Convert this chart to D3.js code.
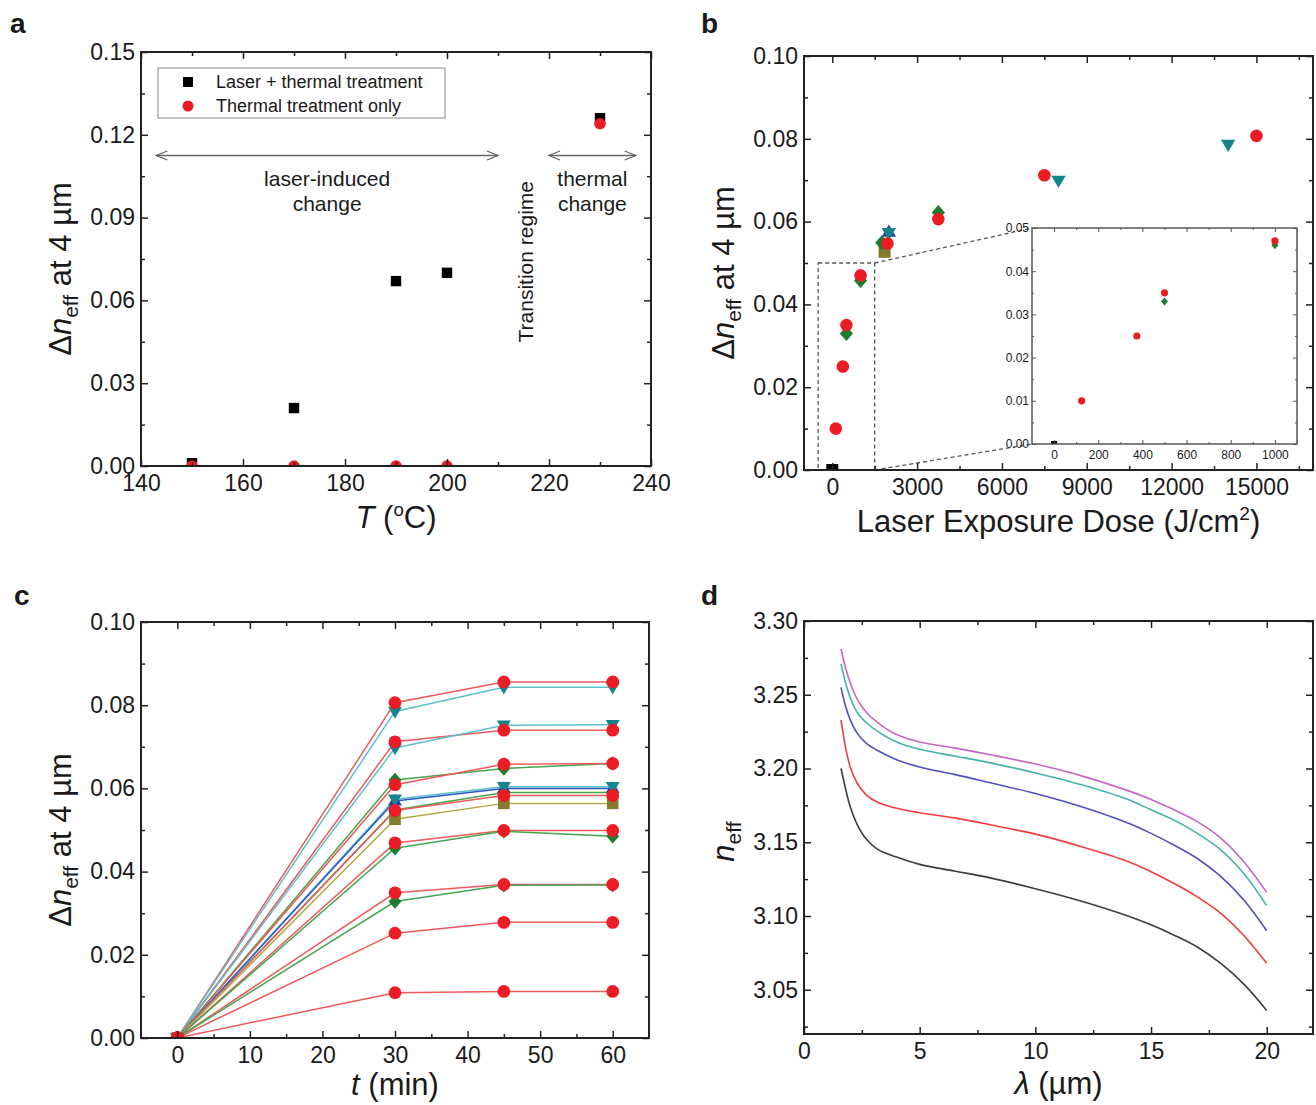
<!DOCTYPE html>
<html>
<head>
<meta charset="utf-8">
<script src="https://cdn.jsdelivr.net/npm/d3@7"></script>
<style>
  body { margin: 0; background: #fff; }
  svg text { fill: #1a1a1a; }
</style>
</head>
<body>
<script>
// ---- panel a: delta n_eff vs anneal temperature
const tempA = [150, 170, 190, 200, 230];
const laserThermalA = [0.001, 0.021, 0.067, 0.070, 0.126];
const thermalOnlyA = [0, 0, 0, 0, 0.124];
const legendA = ["Laser + thermal treatment", "Thermal treatment only"];

// ---- panel b: delta n_eff vs laser dose (one array pair per sample group)
const doseBlack = [0];
const dnBlack = [0];
const doseOlive = [1850];
const dnOlive = [0.0527];
const doseGreen = [500, 1000, 1750, 3750];
const dnGreen = [0.033, 0.0458, 0.0549, 0.0622];
const doseBlue = [2000];
const dnBlue = [0.0575];
const doseTeal = [2000, 8000, 14000];
const dnTeal = [0.0573, 0.0699, 0.0786];
const doseRed = [125, 375, 500, 1000, 1950, 3750, 7500, 15000];
const dnRed = [0.010, 0.025, 0.035, 0.047, 0.0547, 0.0606, 0.0712, 0.0807];

// inset (zoom of low dose range)
const doseInsetRed = [125, 375, 500, 1000];
const dnInsetRed = [0.010, 0.025, 0.035, 0.047];
const doseInsetGreen = [500, 1000];
const dnInsetGreen = [0.033, 0.046];
const doseInsetBlack = [0];
const dnInsetBlack = [0];

// ---- panel c: delta n_eff vs time, one entry per run
const timeC = [0, 30, 45, 60];
const runGroupC = ["red", "teal", "red", "teal", "green", "red", "teal", "blue", "green",
                   "red", "olive", "red", "green", "red", "green", "red", "red"];
const dn0C  = [0, 0, 0, 0, 0, 0, 0, 0, 0, 0, 0, 0, 0, 0, 0, 0, 0];
const dn30C = [0.0806, 0.0785, 0.0712, 0.0697, 0.0620, 0.0609, 0.0574, 0.0570, 0.0548,
               0.0547, 0.0526, 0.0469, 0.0456, 0.0349, 0.0328, 0.0252, 0.0109];
const dn45C = [0.0856, 0.0843, 0.0740, 0.0752, 0.0648, 0.0658, 0.0604, 0.0600, 0.0590,
               0.0583, 0.0564, 0.0499, 0.0497, 0.0369, 0.0367, 0.0278, 0.0112];
const dn60C = [0.0856, 0.0843, 0.0740, 0.0753, 0.0660, 0.0660, 0.0604, 0.0600, 0.0590,
               0.0583, 0.0564, 0.0499, 0.0485, 0.0369, 0.0368, 0.0278, 0.0112];

// ---- panel d: n_eff dispersion curves
const lambdaD   = [1.6, 1.8, 2.0, 2.3, 2.7, 3.2, 4, 5, 6.5, 8, 10, 12, 14, 15, 16, 17, 18, 19, 20];
const nBlackD   = [3.200, 3.186, 3.174, 3.162, 3.152, 3.145, 3.140, 3.135, 3.1305, 3.126, 3.1185, 3.110, 3.100, 3.094, 3.087, 3.079, 3.068, 3.054, 3.036];
const nRedD     = [3.233, 3.214, 3.201, 3.190, 3.182, 3.177, 3.173, 3.170, 3.1665, 3.162, 3.1555, 3.147, 3.137, 3.130, 3.122, 3.113, 3.102, 3.087, 3.068];
const nBlueD    = [3.255, 3.242, 3.233, 3.224, 3.217, 3.212, 3.206, 3.201, 3.196, 3.1905, 3.183, 3.174, 3.163, 3.156, 3.148, 3.139, 3.127, 3.111, 3.090];
const nTealD    = [3.271, 3.258, 3.248, 3.238, 3.231, 3.225, 3.218, 3.213, 3.2085, 3.204, 3.197, 3.189, 3.179, 3.172, 3.165, 3.156, 3.145, 3.129, 3.107];
const nMagentaD = [3.281, 3.268, 3.258, 3.247, 3.238, 3.231, 3.223, 3.218, 3.214, 3.2095, 3.203, 3.195, 3.185, 3.179, 3.172, 3.164, 3.153, 3.137, 3.116];

// styles per sample group
const GROUP_STYLE = {
  black: { shape: "square",  fill: "#000000", line: "#000000" },
  olive: { shape: "square",  fill: "#847b2b", line: "#b2aa48" },
  green: { shape: "diamond", fill: "#1c7d2c", line: "#46a650" },
  blue:  { shape: "up",      fill: "#2b3da6", line: "#2f56c8" },
  teal:  { shape: "down",    fill: "#15858b", line: "#5cc2c9" },
  red:   { shape: "circle",  fill: "#ec1c24", line: "#f0595c" }
};
const DRAW_ORDER = ["black", "olive", "green", "blue", "teal", "red"];

const FONT = '"Liberation Sans", Arial, Helvetica, sans-serif';
const TITLE_FS = 31, TICK_FS = 23;
const svg = d3.select("body").append("svg")
  .attr("width", 1316).attr("height", 1105)
  .style("font-family", FONT);
const defs = svg.append("defs");
let clipId = 0;

function makePanel(left, top, width, height, xDomain, yDomain) {
  const g = svg.append("g").attr("transform", `translate(${left},${top})`);
  const x = d3.scaleLinear().domain(xDomain).range([0, width]);
  const y = d3.scaleLinear().domain(yDomain).range([height, 0]);
  const id = "clip" + (clipId++);
  defs.append("clipPath").attr("id", id)
    .append("rect").attr("width", width).attr("height", height);
  const plot = g.append("g").attr("clip-path", `url(#${id})`);
  return { g, plot, x, y, w: width, h: height, left, top };
}

// Origin-style frame: inward ticks on all four sides
function frame(p, s) {
  const { g, x, y, w, h } = p;
  const big = s.big || 7, small = s.small || 4, col = s.col || "#222";
  const sides = [
    [d3.axisBottom, x, `translate(0,${h})`, s.xMajor, s.xMinor, s.fmtX, s.padX || 9],
    [d3.axisTop, x, null, s.xMajor, s.xMinor, null, 0],
    [d3.axisLeft, y, null, s.yMajor, s.yMinor, s.fmtY, s.padY || 6],
    [d3.axisRight, y, `translate(${w},0)`, s.yMajor, s.yMinor, null, 0]
  ];
  sides.forEach(([mk, sc, tr, major, minor, fmt, pad]) => {
    const a1 = g.append("g").attr("transform", tr)
      .call(mk(sc).tickValues(minor).tickSize(-small).tickFormat(""));
    const a2 = g.append("g").attr("transform", tr)
      .call(mk(sc).tickValues(major).tickSize(-big).tickPadding(pad).tickFormat(fmt || (() => "")));
    [a1, a2].forEach(a => {
      a.select(".domain").remove();
      a.attr("font-size", s.fs || TICK_FS).attr("font-family", FONT);
      a.selectAll("line").attr("stroke", col).attr("stroke-width", s.tw || 1.5);
      a.selectAll("text").attr("fill", s.textCol || "#1a1a1a");
    });
  });
  g.append("rect").attr("width", w).attr("height", h)
    .attr("fill", "none").attr("stroke", col).attr("stroke-width", s.fw || 2);
}

function shapePath(kind, r) {
  const p = d3.path();
  if (kind === "circle") p.arc(0, 0, r, 0, 2 * Math.PI);
  else if (kind === "square") p.rect(-r, -r, 2 * r, 2 * r);
  else if (kind === "diamond") {
    p.moveTo(0, -r * 1.25); p.lineTo(r * 1.1, 0); p.lineTo(0, r * 1.25); p.lineTo(-r * 1.1, 0); p.closePath();
  } else if (kind === "up") {
    p.moveTo(0, -r * 1.25); p.lineTo(r * 1.2, r * 0.8); p.lineTo(-r * 1.2, r * 0.8); p.closePath();
  } else if (kind === "down") {
    p.moveTo(0, r * 1.25); p.lineTo(r * 1.2, -r * 0.8); p.lineTo(-r * 1.2, -r * 0.8); p.closePath();
  }
  return p.toString();
}

function marks(p, xs, ys, group, r) {
  const st = GROUP_STYLE[group];
  p.plot.append("g").selectAll("path").data(d3.zip(xs, ys)).join("path")
    .attr("transform", d => `translate(${p.x(d[0])},${p.y(d[1])})`)
    .attr("d", shapePath(st.shape, r))
    .attr("fill", st.fill);
}

function panelLabel(x, y, t) {
  svg.append("text").attr("x", x).attr("y", y).attr("font-size", 28)
    .attr("font-weight", "bold").text(t);
}

function yTitle(p, build, off) {
  const t = p.g.append("text")
    .attr("transform", `translate(-70,${p.h / 2 + (off || 10)}) rotate(-90)`)
    .attr("text-anchor", "middle").attr("font-size", TITLE_FS);
  build(t);
}
function xTitle(p, build, off) {
  const t = p.g.append("text").attr("x", p.w / 2).attr("y", p.h + (off || 62))
    .attr("text-anchor", "middle").attr("font-size", TITLE_FS);
  build(t);
}
function dnTitle(t) {
  t.append("tspan").text("Δ");
  t.append("tspan").attr("font-style", "italic").text("n");
  t.append("tspan").attr("font-size", "0.68em").attr("dy", 7).text("eff");
  t.append("tspan").attr("dy", -7).text(" at 4 µm");
}

const rng = (a, b, s) => d3.range(a, b + s / 2, s);
const notIn = (arr, major) => arr.filter(v => !major.some(m => Math.abs(m - v) < 1e-9));

// ================= panel a =================
{
  const p = makePanel(141, 52, 510, 414, [140, 240], [0, 0.15]);
  const xMajor = rng(140, 240, 20), yMajor = rng(0, 0.15, 0.03);

  marks(p, tempA, laserThermalA, "black", 5.2);
  marks(p, tempA, thermalOnlyA, "red", 5.8);

  frame(p, {
    xMajor, xMinor: notIn(rng(140, 240, 10), xMajor), fmtX: d3.format("d"),
    yMajor, yMinor: notIn(rng(0, 0.15, 0.015), yMajor), fmtY: d3.format(".2f")
  });

  // legend
  const lg = p.g.append("g").attr("transform", "translate(17,16)");
  lg.append("rect").attr("width", 287).attr("height", 50)
    .attr("fill", "#fff").attr("stroke", "#9a9a9a").attr("stroke-width", 1.2);
  legendA.forEach((txt, i) => {
    const grp = i === 0 ? "black" : "red";
    lg.append("path").attr("transform", `translate(30,${14 + i * 24})`)
      .attr("d", shapePath(GROUP_STYLE[grp].shape, i === 0 ? 5 : 5.5))
      .attr("fill", GROUP_STYLE[grp].fill);
    lg.append("text").attr("x", 58).attr("y", 14 + i * 24).attr("dy", "0.35em")
      .attr("font-size", 18).text(txt);
  });

  // regime arrows
  const ay = p.y(0.1125);
  function dblArrow(t1, t2) {
    const x1 = p.x(t1), x2 = p.x(t2);
    const a = p.g.append("g").attr("stroke", "#666").attr("stroke-width", 1.3).attr("fill", "none");
    a.append("line").attr("x1", x1).attr("x2", x2).attr("y1", ay).attr("y2", ay);
    a.append("path").attr("d", `M${x1 + 11},${ay - 4.5}L${x1},${ay}L${x1 + 11},${ay + 4.5}`);
    a.append("path").attr("d", `M${x2 - 11},${ay - 4.5}L${x2},${ay}L${x2 - 11},${ay + 4.5}`);
  }
  dblArrow(143, 210);
  dblArrow(220, 237);
  const note = (tx, lines) => lines.forEach((s, i) =>
    p.g.append("text").attr("x", p.x(tx)).attr("y", ay + 30 + i * 25)
      .attr("text-anchor", "middle").attr("font-size", 21).text(s));
  note(176.5, ["laser-induced", "change"]);
  note(228.5, ["thermal", "change"]);
  p.g.append("text")
    .attr("transform", `translate(${p.x(216.8)},${p.y(0.074)}) rotate(-90)`)
    .attr("text-anchor", "middle").attr("font-size", 21).text("Transition regime");

  yTitle(p, dnTitle);
  xTitle(p, t => {
    t.append("tspan").attr("font-style", "italic").text("T");
    t.append("tspan").text(" (");
    t.append("tspan").attr("font-size", "0.6em").attr("dy", -12).text("o");
    t.append("tspan").attr("dy", 12).text("C)");
  });
  panelLabel(10, 33, "a");
}

// ================= panel b =================
{
  const p = makePanel(804, 56, 509, 414, [-1000, 17000], [0, 0.10]);
  const xMajor = rng(0, 15000, 3000), yMajor = rng(0, 0.10, 0.02);

  // dashed zoom box and leader lines
  const dash = p.g.append("g").attr("fill", "none").attr("stroke", "#555")
    .attr("stroke-width", 1.3).attr("stroke-dasharray", "4,3");
  dash.append("rect").attr("x", p.x(-500)).attr("y", p.y(0.05))
    .attr("width", p.x(1500) - p.x(-500)).attr("height", p.y(0) - p.y(0.05));

  const groupsB = {
    black: [doseBlack, dnBlack], olive: [doseOlive, dnOlive], green: [doseGreen, dnGreen],
    blue: [doseBlue, dnBlue], teal: [doseTeal, dnTeal], red: [doseRed, dnRed]
  };
  DRAW_ORDER.forEach(k => marks(p, groupsB[k][0], groupsB[k][1], k, k === "red" ? 6.3 : 6));

  frame(p, {
    xMajor, xMinor: notIn(rng(-1500, 16500, 1500), xMajor).filter(v => v > -1000),
    fmtX: d3.format("d"),
    yMajor, yMinor: notIn(rng(0, 0.10, 0.01), yMajor), fmtY: d3.format(".2f")
  });

  // inset
  const ins = makePanel(1032, 228, 265, 216, [-100, 1100], [0, 0.05]);
  const ix0 = ins.left - p.left, iy0 = ins.top - p.top;
  dash.append("line").attr("x1", p.x(1500)).attr("y1", p.y(0.05)).attr("x2", ix0).attr("y2", iy0);
  dash.append("line").attr("x1", p.x(1500)).attr("y1", p.y(0)).attr("x2", ix0).attr("y2", iy0 + ins.h);
  ins.g.insert("rect", ":first-child").attr("width", ins.w).attr("height", ins.h).attr("fill", "#fff");
  marks(ins, doseInsetBlack, dnInsetBlack, "black", 3);
  marks(ins, doseInsetGreen, dnInsetGreen, "green", 3.2);
  marks(ins, doseInsetRed, dnInsetRed, "red", 3.6);
  const ixMajor = rng(0, 1000, 200), iyMajor = rng(0, 0.05, 0.01);
  frame(ins, {
    xMajor: ixMajor, xMinor: rng(100, 900, 200), fmtX: d3.format("d"),
    yMajor: iyMajor, yMinor: notIn(rng(0, 0.05, 0.005), iyMajor), fmtY: d3.format(".2f"),
    big: 4, small: 2, fs: 12, col: "#555", tw: 1, fw: 1.5, padX: 6, padY: 3, textCol: "#444"
  });

  yTitle(p, dnTitle);
  xTitle(p, t => {
    t.append("tspan").text("Laser Exposure Dose (J/cm");
    t.append("tspan").attr("font-size", "0.62em").attr("dy", -12).text("2");
    t.append("tspan").attr("dy", 12).text(")");
  });
  panelLabel(701, 33, "b");
}

// ================= panel c =================
{
  const p = makePanel(141, 622, 508, 416, [-5, 65], [0, 0.10]);
  const xMajor = rng(0, 60, 10), yMajor = rng(0, 0.10, 0.02);
  const cols = [dn0C, dn30C, dn45C, dn60C];
  const line = d3.line().x(d => p.x(d[0])).y(d => p.y(d[1]));

  runGroupC.forEach((grp, i) => {
    const pts = timeC.map((t, k) => [t, cols[k][i]]);
    p.plot.append("path").attr("d", line(pts)).attr("fill", "none")
      .attr("stroke", GROUP_STYLE[grp].line).attr("stroke-width", 1.5);
  });
  DRAW_ORDER.forEach(grp => {
    runGroupC.forEach((g2, i) => {
      if (g2 !== grp) return;
      marks(p, timeC, cols.map(c => c[i]), grp, grp === "red" ? 6.4 : 5.8);
    });
  });

  frame(p, {
    xMajor, xMinor: notIn(rng(-5, 65, 5), xMajor).filter(v => v > -5 && v < 65),
    fmtX: d3.format("d"),
    yMajor, yMinor: notIn(rng(0, 0.10, 0.01), yMajor), fmtY: d3.format(".2f")
  });

  yTitle(p, dnTitle);
  xTitle(p, t => {
    t.append("tspan").attr("font-style", "italic").text("t");
    t.append("tspan").text(" (min)");
  }, 57);
  panelLabel(14, 605, "c");
}

// ================= panel d =================
{
  const p = makePanel(804, 621, 509, 413, [0, 22], [3.02, 3.30]);
  const xMajor = rng(0, 20, 5), yMajor = rng(3.05, 3.30, 0.05);
  const curves = [
    [nBlackD, "#3c3c3c"], [nRedD, "#f03c3c"], [nBlueD, "#4f4fbf"],
    [nTealD, "#45b3a6"], [nMagentaD, "#c566c5"]
  ];
  const line = d3.line().x(d => p.x(d[0])).y(d => p.y(d[1])).curve(d3.curveCatmullRom.alpha(0.5));
  curves.forEach(([vals, col]) => {
    p.plot.append("path").attr("d", line(d3.zip(lambdaD, vals)))
      .attr("fill", "none").attr("stroke", col).attr("stroke-width", 1.6);
  });

  frame(p, {
    xMajor, xMinor: rng(2.5, 20, 5), fmtX: d3.format("d"),
    yMajor, yMinor: rng(3.025, 3.28, 0.05), fmtY: d3.format(".2f")
  });

  yTitle(p, t => {
    t.append("tspan").attr("font-style", "italic").text("n");
    t.append("tspan").attr("font-size", "0.68em").attr("dy", 7).text("eff");
  }, 14);
  xTitle(p, t => {
    t.append("tspan").attr("font-style", "italic").text("λ");
    t.append("tspan").text(" (µm)");
  }, 60);
  panelLabel(701, 605, "d");
}
</script>
</body>
</html>
